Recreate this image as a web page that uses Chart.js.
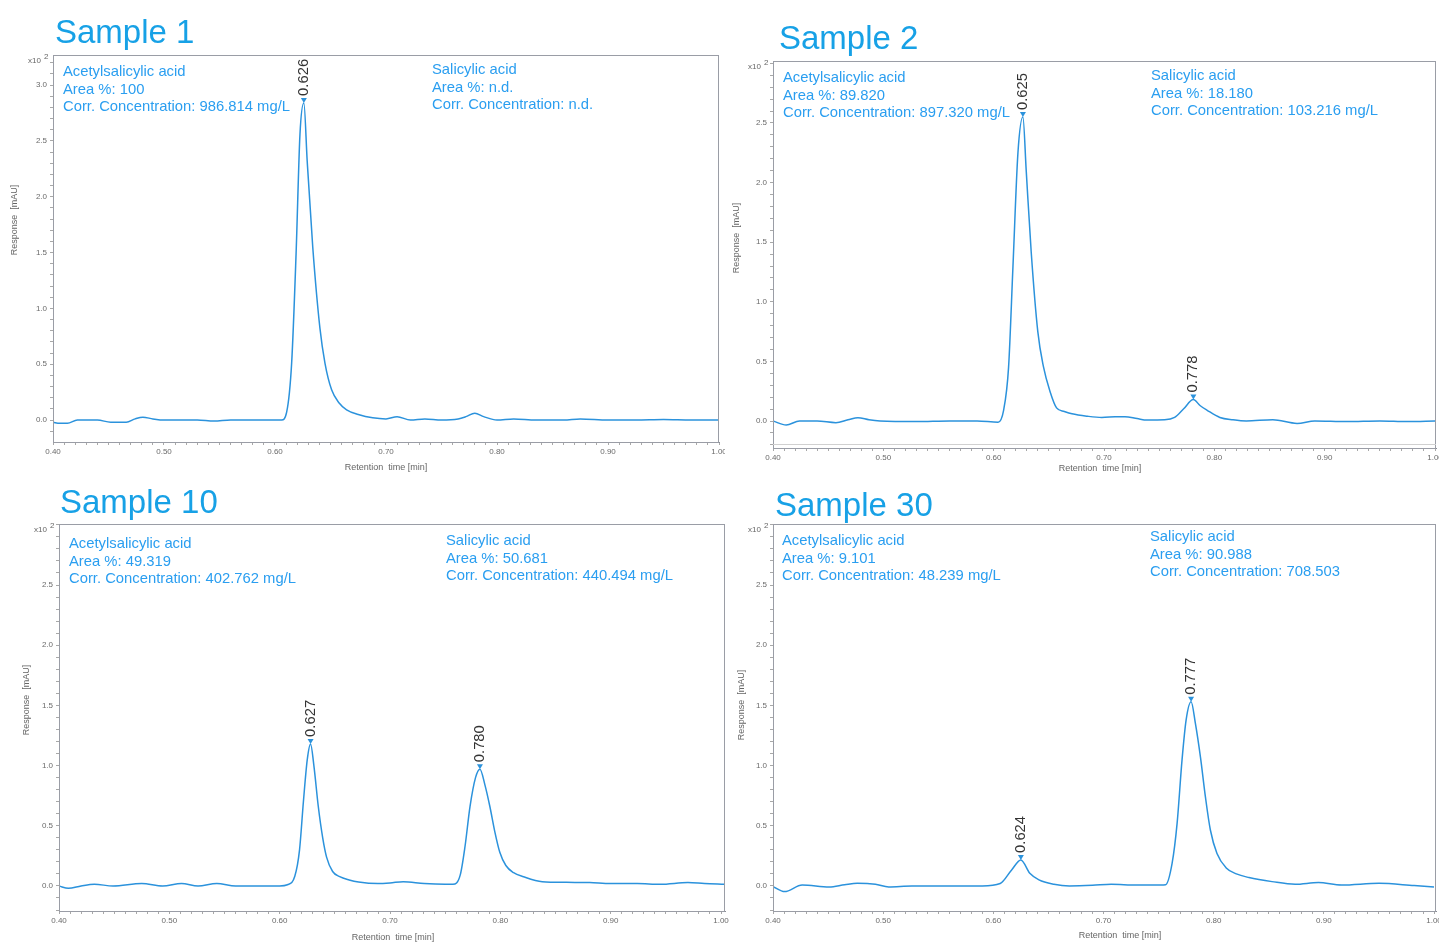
<!DOCTYPE html>
<html><head><meta charset="utf-8">
<script src="https://cdn.jsdelivr.net/npm/chart.js@4.4.1/dist/chart.umd.min.js"></script>
<style>
html,body{margin:0;padding:0;background:#fff;width:1439px;height:944px;overflow:hidden;position:relative;}
canvas{position:absolute;}
</style></head><body>
<canvas id="c1"></canvas><canvas id="c2"></canvas><canvas id="c3"></canvas><canvas id="c4"></canvas>
<script>
// ---------- DATA ----------
const titles = ['Sample 1', 'Sample 2', 'Sample 10', 'Sample 30'];
const xTickLabels = ['0.40', '0.50', '0.60', '0.70', '0.80', '0.90', '1.00'];
const yTickLabels1 = ['0.0', '0.5', '1.0', '1.5', '2.0', '2.5', '3.0'];
const yTickLabels = ['0.0', '0.5', '1.0', '1.5', '2.0', '2.5'];
const yUnitLabel = ['x10', '2'];
const xAxisTitle = 'Retention  time [min]';
const yAxisTitle = 'Response  [mAU]';

const s1Time = [0.400,0.406,0.413,0.422,0.440,0.452,0.466,0.474,0.481,0.490,0.500,0.530,0.545,0.560,0.590,0.606,0.6105,0.615,0.619,0.6225,0.626,0.629,0.634,0.6405,0.645,0.651,0.658,0.6645,0.675,0.688,0.700,0.710,0.722,0.735,0.750,0.765,0.772,0.780,0.788,0.800,0.815,0.835,0.860,0.875,0.900,0.925,0.950,0.975,1.000];
const s1Resp = [-0.02,-0.03,-0.03,0.00,0.00,-0.02,-0.02,0.01,0.025,0.01,0.00,0.00,-0.01,0.00,0.00,0.00,0.07,0.51,1.49,2.56,2.84,2.32,1.55,0.82,0.51,0.27,0.15,0.09,0.05,0.02,0.01,0.03,0.00,0.01,0.00,0.01,0.03,0.06,0.03,0.00,0.01,0.00,0.00,0.01,0.00,0.00,0.005,0.00,0.00];

const s2Time = [0.400,0.412,0.424,0.440,0.457,0.468,0.477,0.487,0.497,0.530,0.560,0.585,0.604,0.609,0.6135,0.6175,0.622,0.6265,0.6295,0.634,0.640,0.645,0.651,0.657,0.664,0.671,0.685,0.698,0.710,0.719,0.730,0.739,0.755,0.764,0.772,0.781,0.787,0.7935,0.805,0.817,0.829,0.853,0.875,0.891,0.920,0.950,0.975,1.000];
const s2Resp = [0.00,-0.034,0.00,0.00,-0.014,0.01,0.028,0.01,0.00,-0.005,0.00,0.00,-0.01,0.09,0.45,1.30,2.25,2.55,2.10,1.42,0.75,0.46,0.25,0.11,0.08,0.06,0.04,0.03,0.035,0.036,0.02,0.008,0.01,0.03,0.10,0.18,0.13,0.09,0.03,0.01,0.00,0.011,-0.02,0.00,-0.005,0.00,-0.005,0.00];

const s3Time = [0.400,0.4085,0.420,0.432,0.449,0.475,0.494,0.511,0.526,0.543,0.560,0.580,0.600,0.607,0.6137,0.618,0.6215,0.625,0.628,0.631,0.635,0.639,0.6425,0.648,0.6544,0.663,0.6715,0.689,0.700,0.712,0.731,0.750,0.757,0.7636,0.768,0.7725,0.7775,0.7815,0.786,0.7905,0.795,0.7995,0.805,0.812,0.821,0.838,0.860,0.881,0.900,0.924,0.945,0.970,0.985,1.003];
const s3Resp = [0.00,-0.02,0.00,0.014,0.00,0.02,0.00,0.02,0.00,0.02,0.00,0.00,0.00,0.01,0.08,0.30,0.70,1.05,1.18,1.00,0.66,0.40,0.24,0.12,0.077,0.05,0.033,0.02,0.025,0.036,0.02,0.014,0.014,0.09,0.33,0.66,0.90,0.97,0.84,0.66,0.45,0.28,0.17,0.11,0.077,0.036,0.03,0.028,0.02,0.02,0.014,0.028,0.02,0.014];

const s4Time = [0.400,0.4105,0.4265,0.451,0.465,0.4765,0.493,0.505,0.526,0.560,0.590,0.6062,0.6166,0.625,0.6331,0.6414,0.655,0.669,0.690,0.707,0.730,0.752,0.7563,0.7623,0.7668,0.7713,0.775,0.7795,0.7834,0.788,0.7925,0.797,0.803,0.8114,0.8206,0.832,0.853,0.874,0.895,0.916,0.950,0.982,1.000];
const s4Resp = [-0.005,-0.047,0.008,-0.008,0.01,0.022,0.014,-0.008,0.00,0.00,0.00,0.02,0.133,0.216,0.105,0.05,0.014,0.00,0.005,0.014,0.008,0.008,0.01,0.19,0.52,1.05,1.38,1.53,1.35,1.07,0.74,0.465,0.27,0.15,0.10,0.07,0.036,0.014,0.028,0.008,0.022,0.003,-0.008];

const s1Peaks = ['0.626'];
const s2Peaks = ['0.625', '0.778'];
const s3Peaks = ['0.627', '0.780'];
const s4Peaks = ['0.624', '0.777'];

const s1InfoA = ['Acetylsalicylic acid', 'Area %: 100', 'Corr. Concentration: 986.814 mg/L'];
const s1InfoB = ['Salicylic acid', 'Area %: n.d.', 'Corr. Concentration: n.d.'];
const s2InfoA = ['Acetylsalicylic acid', 'Area %: 89.820', 'Corr. Concentration: 897.320 mg/L'];
const s2InfoB = ['Salicylic acid', 'Area %: 18.180', 'Corr. Concentration: 103.216 mg/L'];
const s3InfoA = ['Acetylsalicylic acid', 'Area %: 49.319', 'Corr. Concentration: 402.762 mg/L'];
const s3InfoB = ['Salicylic acid', 'Area %: 50.681', 'Corr. Concentration: 440.494 mg/L'];
const s4InfoA = ['Acetylsalicylic acid', 'Area %: 9.101', 'Corr. Concentration: 48.239 mg/L'];
const s4InfoB = ['Salicylic acid', 'Area %: 90.988', 'Corr. Concentration: 708.503'];

// ---------- STYLE / LAYOUT ----------
const FONT = "'Liberation Sans', Arial, sans-serif";
const LINE = '#2b92dc';
const TITLE_C = '#17a1e6';
const INFO_C = '#2a9ef0';

const panels = [
  {id:'c1', left:0, top:0, w:725, h:478, area:{l:53,t:55,r:719,b:442}, xMax:1.0, yMin:-0.197, yMax:3.269,
   time:s1Time, resp:s1Resp, peaks:s1Peaks, infoA:s1InfoA, infoB:s1InfoB, title:titles[0], yLabels:yTickLabels1,
   titleAt:[55,43], yTitleAt:[15,220], xTitleAt:[386,468], infoAAt:[10,[17,34.5,52]], infoBAt:[379,[15,32.5,50]], inner:false},
  {id:'c2', left:722, top:0, w:717, h:480, area:{l:51,t:61,r:714,b:448}, xMax:1.0009, yMin:-0.2265, yMax:3.020,
   time:s2Time, resp:s2Resp, peaks:s2Peaks, infoA:s2InfoA, infoB:s2InfoB, title:titles[1], yLabels:yTickLabels,
   titleAt:[57,49], yTitleAt:[15,238], xTitleAt:[378,469], infoAAt:[10,[17,35,52]], infoBAt:[378,[15,32.5,50]], inner:true},
  {id:'c3', left:0, top:480, w:730, h:464, area:{l:59,t:44,r:725,b:431}, xMax:1.0036, yMin:-0.208, yMax:3.007,
   time:s3Time, resp:s3Resp, peaks:s3Peaks, infoA:s3InfoA, infoB:s3InfoB, title:titles[2], yLabels:yTickLabels,
   titleAt:[60,33], yTitleAt:[27,220], xTitleAt:[393,458], infoAAt:[10,[20,37.5,55]], infoBAt:[387,[17,34.5,52]], inner:false},
  {id:'c4', left:722, top:480, w:717, h:464, area:{l:51,t:44,r:714,b:431}, xMax:1.0018, yMin:-0.208, yMax:3.007,
   time:s4Time, resp:s4Resp, peaks:s4Peaks, infoA:s4InfoA, infoB:s4InfoB, title:titles[3], yLabels:yTickLabels,
   titleAt:[53,36], yTitleAt:[20,225], xTitleAt:[398,456], infoAAt:[9,[17,34.5,52]], infoBAt:[377,[13,30.5,48]], inner:false}
];

function labelFor(v, labels) {
  const m = labels.find(l => Math.abs(parseFloat(l) - v) < 1e-6);
  return m === undefined ? '' : m;
}

const panelDeco = {
  id: 'panelDeco',
  afterDraw(chart, args, opts) {
    const p = opts.panel;
    const {ctx, chartArea: a, scales: {x, y}} = chart;
    ctx.save();
    ctx.strokeStyle = '#9a9da6';
    ctx.lineWidth = 1;
    ctx.strokeRect(Math.round(a.left) + 0.5, Math.round(a.top) + 0.5, Math.round(a.right - a.left) - 1, Math.round(a.bottom - a.top));
    if (p.inner) {
      ctx.strokeStyle = '#d0d0d0';
      ctx.beginPath();
      ctx.moveTo(a.left, Math.round(a.bottom) - 3.5);
      ctx.lineTo(a.right, Math.round(a.bottom) - 3.5);
      ctx.stroke();
    }
    ctx.fillStyle = TITLE_C;
    ctx.font = '33px ' + FONT;
    ctx.textAlign = 'left';
    ctx.textBaseline = 'alphabetic';
    ctx.fillText(p.title, p.titleAt[0], p.titleAt[1]);
    ctx.fillStyle = '#666';
    ctx.font = '8px ' + FONT;
    ctx.textAlign = 'right';
    ctx.textBaseline = 'middle';
    ctx.fillText(yUnitLabel[0], a.left - 12, a.top + 6);
    ctx.textAlign = 'left';
    ctx.fillText(yUnitLabel[1], a.left - 9, a.top + 2);
    ctx.font = '9px ' + FONT;
    ctx.textAlign = 'center';
    ctx.fillText(xAxisTitle, p.xTitleAt[0], p.xTitleAt[1]);
    ctx.save();
    ctx.translate(p.yTitleAt[0], p.yTitleAt[1]);
    ctx.rotate(-Math.PI / 2);
    ctx.fillText(yAxisTitle, 0, 0);
    ctx.restore();
    ctx.fillStyle = INFO_C;
    ctx.font = '14.8px ' + FONT;
    ctx.textAlign = 'left';
    ctx.textBaseline = 'middle';
    p.infoA.forEach((s, i) => ctx.fillText(s, a.left + p.infoAAt[0], a.top + p.infoAAt[1][i]));
    p.infoB.forEach((s, i) => ctx.fillText(s, a.left + p.infoBAt[0], a.top + p.infoBAt[1][i]));
    p.peaks.forEach(lab => {
      const t0 = parseFloat(lab);
      let best = -1;
      p.time.forEach((t, i) => {
        if (Math.abs(t - t0) < 0.01 && (best < 0 || p.resp[i] > p.resp[best])) best = i;
      });
      const px = x.getPixelForValue(p.time[best]);
      const py = y.getPixelForValue(p.resp[best]);
      ctx.fillStyle = LINE;
      ctx.beginPath();
      ctx.moveTo(px - 3, py - 5);
      ctx.lineTo(px + 3, py - 5);
      ctx.lineTo(px, py);
      ctx.closePath();
      ctx.fill();
      ctx.fillStyle = '#333';
      ctx.font = '14.8px ' + FONT;
      ctx.save();
      ctx.translate(px, py - 7);
      ctx.rotate(-Math.PI / 2);
      ctx.textAlign = 'left';
      ctx.textBaseline = 'middle';
      ctx.fillText(lab, 0, 0);
      ctx.restore();
    });
    ctx.restore();
  }
};

panels.forEach(p => {
  const cv = document.getElementById(p.id);
  cv.width = p.w; cv.height = p.h;
  cv.style.left = p.left + 'px'; cv.style.top = p.top + 'px';
  cv.style.width = p.w + 'px'; cv.style.height = p.h + 'px';
  new Chart(cv, {
    type: 'line',
    data: { datasets: [{
      data: p.time.map((t, i) => ({x: t, y: p.resp[i]})),
      borderColor: LINE, borderWidth: 1.5, pointRadius: 0,
      cubicInterpolationMode: 'monotone', fill: false
    }]},
    options: {
      responsive: false, animation: false, devicePixelRatio: 1,
      layout: { padding: { left: 0, top: p.area.t, right: p.w - p.area.r, bottom: 0 } },
      plugins: { legend: {display: false}, tooltip: {enabled: false}, title: {display: false}, panelDeco: {panel: p} },
      scales: {
        x: {
          type: 'linear', min: 0.40, max: p.xMax,
          afterBuildTicks: s => {
            const arr = [];
            for (let i = 0; i <= 60; i++) arr.push({value: Math.round((0.40 + i * 0.01) * 1000) / 1000});
            s.ticks = arr.filter(t => t.value <= p.xMax + 1e-9);
          },
          afterFit: s => { s.height = p.h - p.area.b; s.paddingLeft = 0; s.paddingRight = 0; },
          ticks: { autoSkip: false, maxRotation: 0, minRotation: 0, padding: 2, color: '#6a6a6a',
                   font: {size: 8, family: FONT}, callback: v => labelFor(v, xTickLabels) },
          grid: { drawOnChartArea: false, tickLength: 3, color: '#a8a8a8' },
          border: { color: '#8a8d96', width: 1 }
        },
        y: {
          type: 'linear', min: p.yMin, max: p.yMax,
          afterBuildTicks: s => {
            const arr = [];
            for (let i = -2; i <= 32; i++) {
              const v = Math.round(i * 10) / 100;
              if (v >= p.yMin && v <= p.yMax) arr.push({value: v});
            }
            s.ticks = arr;
          },
          afterFit: s => { s.width = p.area.l; s.paddingTop = 0; s.paddingBottom = 0; },
          ticks: { autoSkip: false, padding: 3, color: '#6a6a6a',
                   font: {size: 8, family: FONT}, callback: v => labelFor(v, p.yLabels) },
          grid: { drawOnChartArea: false, tickLength: 3, color: '#a8a8a8' },
          border: { color: '#8a8d96', width: 1 }
        }
      }
    },
    plugins: [panelDeco]
  });
});
</script>
</body></html>
